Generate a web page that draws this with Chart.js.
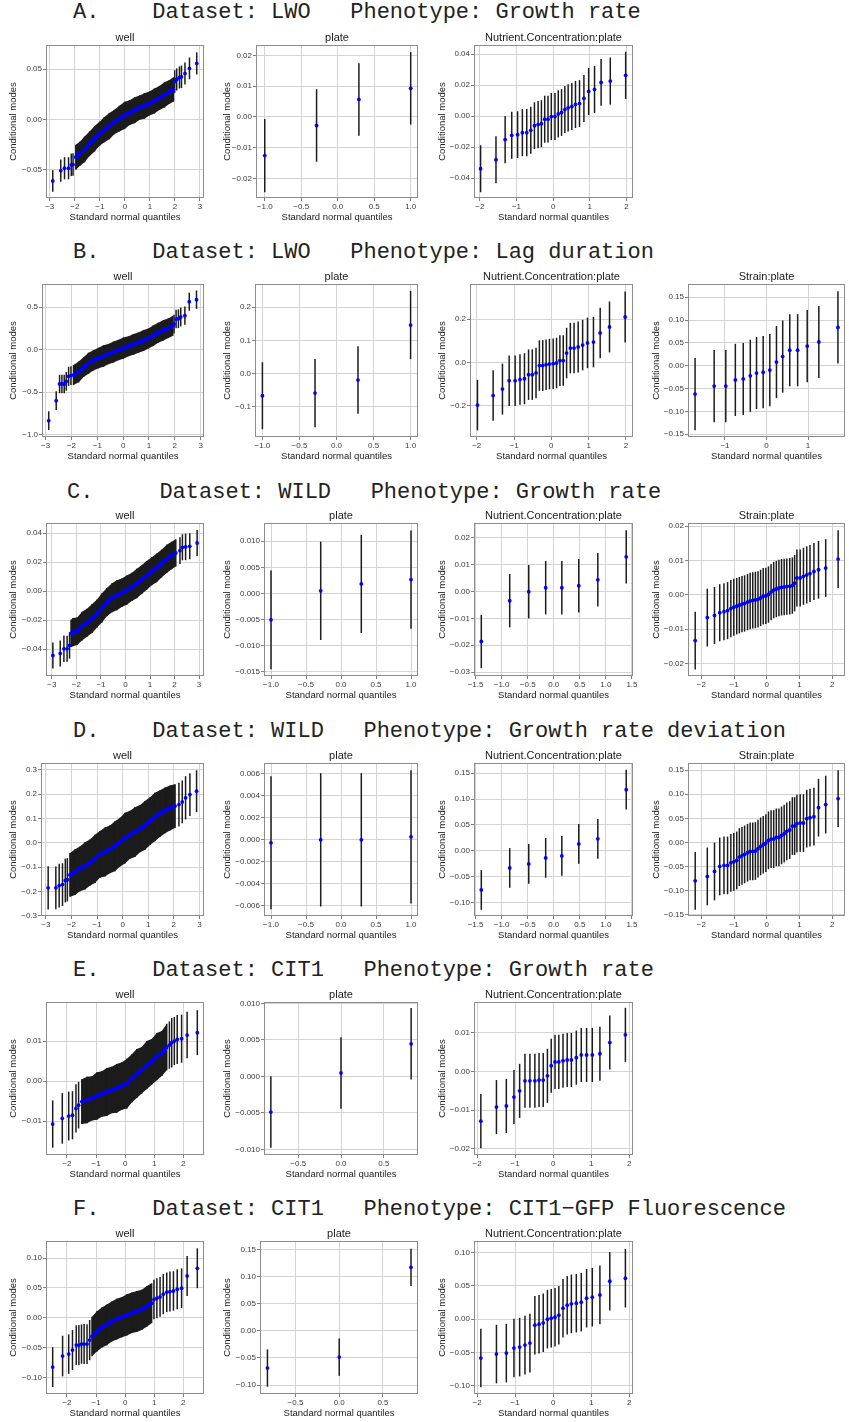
<!DOCTYPE html>
<html>
<head>
<meta charset="utf-8">
<script src="https://cdn.jsdelivr.net/npm/chart.js@4.4.1/dist/chart.umd.min.js"></script>
<style>
  html, body { margin: 0; padding: 0; background: #fff; }
  #fig { position: relative; width: 849px; height: 1422px; overflow: hidden; }
  .rt { position: absolute; font-family: "Liberation Mono", "Courier New", monospace; font-size: 22px; line-height: 22px; white-space: pre; color: #222; }
  canvas { position: absolute; }
</style>
</head>
<body>
<div id="fig">
  <div class="rt" style="left:73px;top:2px">A.    Dataset: LWO   Phenotype: Growth rate</div>
  <div class="rt" style="left:73px;top:242px">B.    Dataset: LWO   Phenotype: Lag duration</div>
  <div class="rt" style="left:67px;top:482px">C.     Dataset: WILD   Phenotype: Growth rate</div>
  <div class="rt" style="left:73px;top:721px">D.    Dataset: WILD   Phenotype: Growth rate deviation</div>
  <div class="rt" style="left:73px;top:960px">E.    Dataset: CIT1   Phenotype: Growth rate</div>
  <div class="rt" style="left:73px;top:1199px">F.    Dataset: CIT1   Phenotype: CIT1&#8722;GFP Fluorescence</div>
</div>
<script>
// ---- tick labels ----
const xTicksInt3 = ['−3', '−2', '−1', '0', '1', '2', '3'];
const xTicksInt2 = ['−2', '−1', '0', '1', '2'];
const xTicksInt1 = ['−1', '0', '1'];
const xTicksPlate4 = ['−1.0', '−0.5', '0.0', '0.5', '1.0'];
const xTicksPlate3 = ['−0.5', '0.0', '0.5'];
const xTicksHalf = ['−1.5', '−1.0', '−0.5', '0.0', '0.5', '1.0', '1.5'];

const yTicksA1 = ['−0.05', '0.00', '0.05'];
const yTicksA2 = ['−0.02', '−0.01', '0.00', '0.01', '0.02'];
const yTicksA3 = ['−0.04', '−0.02', '0.00', '0.02', '0.04'];
const yTicksB1 = ['−1.0', '−0.5', '0.0', '0.5'];
const yTicksB2 = ['−0.1', '0.0', '0.1', '0.2'];
const yTicksB3 = ['−0.2', '0.0', '0.2'];
const yTicksStrain = ['−0.15', '−0.10', '−0.05', '0.00', '0.05', '0.10', '0.15'];
const yTicksC1 = ['−0.04', '−0.02', '0.00', '0.02', '0.04'];
const yTicksC2 = ['−0.015', '−0.010', '−0.005', '0.000', '0.005', '0.010'];
const yTicksC3 = ['−0.03', '−0.02', '−0.01', '0.00', '0.01', '0.02'];
const yTicksC4 = ['−0.02', '−0.01', '0.00', '0.01', '0.02'];
const yTicksD1 = ['−0.3', '−0.2', '−0.1', '0.0', '0.1', '0.2', '0.3'];
const yTicksD2 = ['−0.006', '−0.004', '−0.002', '0.000', '0.002', '0.004', '0.006'];
const yTicksD3 = ['−0.10', '−0.05', '0.00', '0.05', '0.10', '0.15'];
const yTicksE1 = ['−0.01', '0.00', '0.01'];
const yTicksE2 = ['−0.010', '−0.005', '0.000', '0.005', '0.010'];
const yTicksE3 = ['−0.02', '−0.01', '0.00', '0.01'];
const yTicksF1 = ['−0.10', '−0.05', '0.00', '0.05', '0.10'];
const yTicksF2 = ['−0.10', '−0.05', '0.00', '0.05', '0.10', '0.15'];

// ---- shared normal quantiles ----
const lwoPlateQ = [-1.0, -0.29, 0.29, 1.0];
const wildPlateQ = [-1.0, -0.29, 0.29, 1.0];
const citPlateQ = [-0.82, 0.0, 0.82];
const lwoNutQ = [-1.98, -1.56, -1.31, -1.13, -0.97, -0.84, -0.72, -0.61, -0.51, -0.41, -0.32, -0.23, -0.14, -0.05,
                 0.05, 0.14, 0.23, 0.32, 0.41, 0.51, 0.61, 0.72, 0.84, 0.97, 1.13, 1.31, 1.56, 1.98];
const wildNutQ = [-1.39, -0.845, -0.48, -0.155, 0.155, 0.48, 0.845, 1.39];
const citNutQ = [-1.90, -1.49, -1.23, -1.03, -0.88, -0.74, -0.61, -0.48, -0.37, -0.26, -0.15, -0.05,
                 0.05, 0.15, 0.26, 0.37, 0.48, 0.61, 0.74, 0.88, 1.03, 1.23, 1.49, 1.90];
const lwoStrainQ = [-1.72, -1.26, -0.98, -0.75, -0.56, -0.39, -0.24, -0.08, 0.08, 0.24, 0.39, 0.56, 0.75, 0.98, 1.26, 1.72];
const wildStrainQ = [-2.19, -1.82, -1.60, -1.44, -1.31, -1.20, -1.10, -1.01, -0.92, -0.84, -0.76, -0.68, -0.59, -0.51,
                     -0.43, -0.35, -0.27, -0.19, -0.11, -0.03, 0.05, 0.13, 0.21, 0.29, 0.37, 0.45, 0.53, 0.61,
                     0.70, 0.78, 0.85, 0.92, 1.02, 1.12, 1.22, 1.32, 1.44, 1.58, 1.80, 2.18];

// ---- A: LWO growth rate ----
const aWellQ = [-2.88, -2.56, -2.41, -2.25, -2.14, -2.07, 1.99, 2.07, 2.18, 2.26, 2.40, 2.58, 2.87];
const aWellM = [-0.0614, -0.0510, -0.0487, -0.0487, -0.0453, -0.0450, 0.0376, 0.0397, 0.0417, 0.0423, 0.0457, 0.0507, 0.0557];
const aWellE = [0.0107, 0.0110, 0.0110, 0.0110, 0.0112, 0.0112, 0.0112, 0.0110, 0.0110, 0.0112, 0.0110, 0.0108, 0.0110];
const aWellBodyQ = [-1.96, -1.80, -1.61, -1.41, -1.21, -1.01, -0.82, -0.62, -0.42, -0.22, -0.01, 0.19, 0.39, 0.59, 0.78,
                    0.98, 1.18, 1.38, 1.58, 1.78, 1.94];
const aWellBodyM = [-0.0377, -0.0343, -0.0300, -0.0243, -0.0193, -0.0143, -0.0103, -0.0067, -0.0027, 0.0007, 0.0040,
                    0.0067, 0.0090, 0.0117, 0.0133, 0.0157, 0.0183, 0.0213, 0.0243, 0.0273, 0.0297];
const aWellBodyE = [0.0125, 0.0121, 0.0128, 0.0123, 0.0127, 0.0120, 0.0126, 0.0131, 0.0122, 0.0128, 0.0136, 0.0124,
                    0.0129, 0.0121, 0.0127, 0.0119, 0.0125, 0.0120, 0.0126, 0.0118, 0.0122];
const aPlateM = [-0.0126, -0.0028, 0.0057, 0.0093];
const aPlateE = [0.0119, 0.0118, 0.0118, 0.0118];
const aNutM = [-0.0339, -0.0281, -0.0151, -0.0123, -0.0119, -0.0106, -0.0106, -0.0091, -0.0061, -0.0054, -0.0048,
               -0.0019, -0.0019, -0.0002, -0.0002, 0.0015, 0.0024, 0.0043, 0.0054, 0.0063, 0.0076, 0.0082, 0.0115,
               0.0160, 0.0173, 0.0218, 0.0227, 0.0264];
const aNutE = [0.0152, 0.0151, 0.0152, 0.0152, 0.0151, 0.0152, 0.0152, 0.0152, 0.0151, 0.0152, 0.0152, 0.0152, 0.0151,
               0.0152, 0.0152, 0.0152, 0.0151, 0.0152, 0.0152, 0.0152, 0.0152, 0.0151, 0.0152, 0.0152, 0.0152, 0.0151,
               0.0152, 0.0152];

// ---- B: LWO lag duration ----
const bWellQ = [-2.88, -2.59, -2.46, -2.37, -2.28, -2.20, -2.11, -2.02, 1.97, 2.05, 2.14, 2.23, 2.39, 2.56, 2.84];
const bWellM = [-0.834, -0.599, -0.403, -0.403, -0.403, -0.372, -0.313, -0.305, 0.300, 0.360, 0.364, 0.384, 0.400, 0.564, 0.588];
const bWellE = [0.110, 0.110, 0.108, 0.110, 0.108, 0.110, 0.112, 0.110, 0.110, 0.108, 0.110, 0.110, 0.108, 0.106, 0.108];
const bWellBodyQ = [-1.92, -1.72, -1.53, -1.34, -1.15, -0.95, -0.76, -0.57, -0.37, -0.18, 0.01, 0.21, 0.40, 0.59, 0.79,
                    0.98, 1.17, 1.36, 1.56, 1.75, 1.92];
const bWellBodyM = [-0.298, -0.262, -0.205, -0.160, -0.125, -0.098, -0.075, -0.052, -0.028, -0.004, 0.018, 0.040, 0.062,
                    0.084, 0.108, 0.132, 0.165, 0.200, 0.228, 0.252, 0.280];
const bWellBodyE = [0.118, 0.122, 0.116, 0.124, 0.119, 0.121, 0.126, 0.118, 0.123, 0.120, 0.125, 0.117, 0.122, 0.119,
                    0.124, 0.118, 0.121, 0.117, 0.120, 0.116, 0.118];
const bPlateM = [-0.0675, -0.0594, -0.020, 0.146];
const bPlateE = [0.101, 0.103, 0.102, 0.103];
const bNutM = [-0.198, -0.154, -0.124, -0.085, -0.085, -0.080, -0.076, -0.057, -0.057, -0.049, -0.015, -0.015, -0.011,
               -0.008, -0.006, -0.003, 0.008, 0.008, 0.043, 0.066, 0.066, 0.071, 0.080, 0.090, 0.094, 0.136, 0.164, 0.210];
const bNutE = [0.117, 0.117, 0.118, 0.117, 0.117, 0.117, 0.118, 0.117, 0.117, 0.117, 0.117, 0.118, 0.117, 0.117,
               0.117, 0.117, 0.118, 0.117, 0.117, 0.117, 0.117, 0.118, 0.117, 0.117, 0.117, 0.117, 0.118, 0.118];
const bStrainM = [-0.062, -0.0445, -0.0445, -0.031, -0.029, -0.022, -0.016, -0.014, -0.0095, 0.008, 0.020, 0.034, 0.034,
                  0.043, 0.052, 0.084];
const bStrainE = [0.079, 0.079, 0.079, 0.079, 0.079, 0.079, 0.079, 0.079, 0.079, 0.079, 0.079, 0.079, 0.079, 0.079, 0.079, 0.079];

// ---- C: WILD growth rate ----
const cWellQ = [-2.96, -2.66, -2.51, -2.38, -2.28, 2.22, 2.32, 2.45, 2.62, 2.92];
const cWellM = [-0.0444, -0.0430, -0.0398, -0.0398, -0.0375, 0.0280, 0.0303, 0.0306, 0.0310, 0.0333];
const cWellE = [0.0090, 0.0090, 0.0092, 0.0090, 0.0091, 0.0092, 0.0090, 0.0092, 0.0090, 0.0090];
const cWellBodyQ = [-2.22, -2.14, -1.97, -1.77, -1.57, -1.36, -1.16, -0.96, -0.76, -0.55, -0.35, -0.15, 0.05, 0.26, 0.46,
                    0.66, 0.86, 1.07, 1.27, 1.47, 1.68, 1.88, 2.05];
const cWellBodyM = [-0.0292, -0.0283, -0.0276, -0.0241, -0.0218, -0.0189, -0.0154, -0.0115, -0.0076, -0.0046, -0.0028,
                    -0.0011, 0.0007, 0.0030, 0.0053, 0.0080, 0.0108, 0.0138, 0.0161, 0.0191, 0.0223, 0.0246, 0.0264];
const cWellBodyE = [0.0094, 0.0097, 0.0095, 0.0099, 0.0096, 0.0100, 0.0097, 0.0101, 0.0098, 0.0100, 0.0103, 0.0099,
                    0.0101, 0.0098, 0.0102, 0.0099, 0.0100, 0.0097, 0.0099, 0.0096, 0.0098, 0.0095, 0.0094];
const cPlateM = [-0.00503, 0.00051, 0.00184, 0.00267];
const cPlateE = [0.00945, 0.0094, 0.0094, 0.0094];
const cNutM = [-0.0186, -0.00346, -0.00012, 0.00136, 0.00136, 0.0021, 0.00432, 0.01284];
const cNutE = [0.0099, 0.0099, 0.0099, 0.0099, 0.0099, 0.0099, 0.0099, 0.0099];
const cStrainM = [-0.0133, -0.0066, -0.0060, -0.0052, -0.0049, -0.0046, -0.0040, -0.0036, -0.0033, -0.0030, -0.0027,
                  -0.0025, -0.0021, -0.0018, -0.0016, -0.0015, -0.0013, -0.0009, -0.0004, -0.0003, 0.0001, 0.0008,
                  0.0014, 0.0017, 0.0020, 0.0022, 0.0023, 0.0024, 0.0025, 0.0027, 0.0034, 0.0049, 0.0049, 0.0054,
                  0.0058, 0.0062, 0.0068, 0.0073, 0.0078, 0.0104];
const cStrainE = [0.0084, 0.0084, 0.0083, 0.0083, 0.0083, 0.0083, 0.0083, 0.0083, 0.0082, 0.0082, 0.0082, 0.0082,
                  0.0082, 0.0082, 0.0082, 0.0082, 0.0082, 0.0082, 0.0082, 0.0082, 0.0082, 0.0082, 0.0082, 0.0082,
                  0.0082, 0.0082, 0.0082, 0.0082, 0.0082, 0.0082, 0.0082, 0.0083, 0.0083, 0.0083, 0.0083, 0.0083,
                  0.0083, 0.0084, 0.0084, 0.0084];

// ---- D: WILD growth rate deviation ----
const dWellQ = [-2.91, -2.61, -2.48, -2.35, -2.24, -2.16, 2.20, 2.33, 2.46, 2.63, 2.89];
const dWellM = [-0.185, -0.185, -0.176, -0.172, -0.155, -0.152, 0.157, 0.168, 0.185, 0.198, 0.212];
const dWellE = [0.089, 0.088, 0.090, 0.088, 0.090, 0.089, 0.090, 0.088, 0.089, 0.088, 0.086];
const dWellBodyQ = [-2.06, -1.86, -1.67, -1.47, -1.28, -1.08, -0.89, -0.69, -0.50, -0.30, -0.10, 0.09, 0.29, 0.48, 0.68,
                    0.87, 1.07, 1.26, 1.46, 1.66, 1.85, 2.05];
const dWellBodyM = [-0.132, -0.121, -0.107, -0.095, -0.082, -0.066, -0.048, -0.038, -0.027, -0.014, 0.003, 0.019, 0.033,
                    0.044, 0.058, 0.071, 0.089, 0.106, 0.120, 0.133, 0.143, 0.151];
const dWellBodyE = [0.090, 0.094, 0.092, 0.097, 0.095, 0.099, 0.096, 0.101, 0.098, 0.103, 0.100, 0.104, 0.099, 0.102,
                    0.097, 0.101, 0.098, 0.100, 0.096, 0.094, 0.092, 0.090];
const dPlateM = [-0.00027, 0.0, 0.0, 0.00027];
const dPlateE = [0.00603, 0.00605, 0.00605, 0.00605];
const dNutM = [-0.0754, -0.0329, -0.0251, -0.0135, -0.0097, 0.0135, 0.0232, 0.118];
const dNutE = [0.0383, 0.0383, 0.0383, 0.0383, 0.0383, 0.0383, 0.0383, 0.0383];
const dStrainM = [-0.0799, -0.0708, -0.0604, -0.0500, -0.0479, -0.0479, -0.0424, -0.0403, -0.0375, -0.0306, -0.0278,
                  -0.0250, -0.0215, -0.0188, -0.0188, -0.0180, -0.0132, -0.0083, -0.0049, -0.0014, 0.0042, 0.0069,
                  0.0069, 0.0104, 0.0104, 0.0146, 0.0180, 0.0229, 0.0257, 0.0340, 0.0340, 0.0389, 0.0403, 0.0403,
                  0.0493, 0.0514, 0.0535, 0.0722, 0.0785, 0.0910];
const dStrainE = [0.060, 0.060, 0.060, 0.060, 0.060, 0.060, 0.060, 0.060, 0.060, 0.060, 0.060, 0.060, 0.060, 0.060,
                  0.060, 0.060, 0.060, 0.060, 0.060, 0.060, 0.060, 0.060, 0.060, 0.060, 0.060, 0.060, 0.060, 0.060,
                  0.060, 0.060, 0.060, 0.060, 0.060, 0.060, 0.060, 0.060, 0.060, 0.060, 0.060, 0.059];

// ---- E: CIT1 growth rate ----
const eWellQ = [-2.49, -2.16, -1.94, -1.81, -1.69, -1.60, 1.52, 1.60, 1.69, 1.79, 1.94, 2.13, 2.48];
const eWellM = [-0.0107, -0.0093, -0.0087, -0.0085, -0.0068, -0.0060, 0.0090, 0.0096, 0.0100, 0.0104, 0.0106, 0.0115, 0.0121];
const eWellE = [0.0059, 0.0063, 0.0061, 0.0060, 0.0060, 0.0058, 0.0059, 0.0062, 0.0060, 0.0061, 0.0060, 0.0058, 0.0056];
const eWellBodyQ = [-1.49, -1.31, -1.14, -0.97, -0.80, -0.63, -0.46, -0.29, -0.11, 0.06, 0.23, 0.40, 0.57, 0.74, 0.91,
                    1.09, 1.26, 1.43];
const eWellBodyM = [-0.0051, -0.0047, -0.0043, -0.0037, -0.0032, -0.0027, -0.0022, -0.0018, -0.0012, -0.0006, 0.0007,
                    0.0019, 0.0027, 0.0040, 0.0048, 0.0061, 0.0069, 0.0085];
const eWellBodyE = [0.0056, 0.0058, 0.0055, 0.0059, 0.0057, 0.0060, 0.0058, 0.0061, 0.0059, 0.0062, 0.0060, 0.0061,
                    0.0058, 0.0060, 0.0057, 0.0059, 0.0056, 0.0058];
const ePlateM = [-0.0049, 0.00046, 0.00445];
const ePlateE = [0.0049, 0.0049, 0.0049];
const eNutM = [-0.01284, -0.0092, -0.0089, -0.0066, -0.0050, -0.0024, -0.0024, -0.0024, -0.0022, -0.0022, -0.0011,
               0.0015, 0.0025, 0.0025, 0.0028, 0.0030, 0.0030, 0.0036, 0.0043, 0.0043, 0.0043, 0.0046, 0.0075, 0.0095];
const eNutE = [0.0070, 0.0070, 0.0070, 0.0070, 0.0070, 0.0070, 0.0070, 0.0070, 0.0070, 0.0070, 0.0070, 0.0070,
               0.0070, 0.0070, 0.0070, 0.0070, 0.0070, 0.0070, 0.0070, 0.0070, 0.0070, 0.0070, 0.0070, 0.0070];

// ---- F: CIT1 CIT1-GFP fluorescence ----
const fWellQ = [-2.49, -2.15, -1.94, -1.81, -1.68, -1.59, -1.50, -1.41, -1.31, -1.22, 0.99, 1.09, 1.20, 1.31, 1.43,
                1.54, 1.66, 1.79, 1.94, 2.13, 2.48];
const fWellM = [-0.0825, -0.0640, -0.0607, -0.0540, -0.0457, -0.0457, -0.0440, -0.0440, -0.0440, -0.0373, 0.0306,
                0.0329, 0.0351, 0.0396, 0.0429, 0.0440, 0.0451, 0.0479, 0.0496, 0.0702, 0.0830];
const fWellE = [0.0334, 0.0340, 0.0330, 0.0335, 0.0332, 0.0338, 0.0330, 0.0335, 0.0332, 0.0336, 0.0330, 0.0335,
                0.0332, 0.0336, 0.0330, 0.0334, 0.0330, 0.0336, 0.0332, 0.0335, 0.0334];
const fWellBodyQ = [-1.14, -0.97, -0.80, -0.63, -0.46, -0.29, -0.11, 0.06, 0.23, 0.40, 0.57, 0.74, 0.91];
const fWellBodyM = [-0.0312, -0.0228, -0.0162, -0.0117, -0.0061, -0.0022, 0.0011, 0.0050, 0.0084, 0.0106, 0.0134,
                    0.0189, 0.0245];
const fWellBodyE = [0.0330, 0.0338, 0.0334, 0.0341, 0.0336, 0.0343, 0.0338, 0.0345, 0.0340, 0.0343, 0.0337, 0.0340, 0.0334];
const fPlateM = [-0.0686, -0.0484, 0.117];
const fPlateE = [0.0343, 0.0343, 0.0343];
const fNutM = [-0.0585, -0.0525, -0.0510, -0.0435, -0.0420, -0.0390, -0.0360, -0.0090, -0.0075, -0.0055, 0.0000,
               0.0015, 0.0030, 0.0060, 0.0165, 0.0210, 0.0230, 0.0240, 0.0255, 0.0315, 0.0330, 0.0365, 0.0570, 0.0615];
const fNutE = [0.044, 0.044, 0.044, 0.044, 0.044, 0.044, 0.044, 0.044, 0.044, 0.044, 0.044, 0.044,
               0.044, 0.044, 0.044, 0.044, 0.044, 0.044, 0.044, 0.044, 0.044, 0.044, 0.044, 0.044];

// ---- layout ----
const FONT = '"Liberation Sans", Arial, Helvetica, sans-serif';
const ROW_TOP = [45, 284, 523, 763, 1002, 1241];
const COL_X = [0, 214, 429, 643];
const COL_RIGHT = [204, 418, 633, 845];
const PLOT_H = 153;
const PAD_TOP = 16;
const PAD_RIGHT = 6;
const X_AXIS_H = 27;
const BLUE = '#0000ff';
const BAR = '#1c1c1c';

const NC = 'Nutrient.Concentration:plate';
const panels = [
  {row: 0, col: 0, left: 46, title: 'well', x: [-3.15, 3.16], y: [-0.0783, 0.074], xt: xTicksInt3, yt: yTicksA1,
   q: aWellQ, m: aWellM, e: aWellE, bq: aWellBodyQ, bm: aWellBodyM, be: aWellBodyE},
  {row: 0, col: 1, left: 256, title: 'plate', x: [-1.12, 1.1], y: [-0.0264, 0.0234], xt: xTicksPlate4, yt: yTicksA2,
   q: lwoPlateQ, m: aPlateM, e: aPlateE},
  {row: 0, col: 2, left: 474, title: NC, x: [-2.16, 2.18], y: [-0.0528, 0.046], xt: xTicksInt2, yt: yTicksA3,
   q: lwoNutQ, m: aNutM, e: aNutE},

  {row: 1, col: 0, left: 42, title: 'well', x: [-3.14, 3.13], y: [-1.026, 0.772], xt: xTicksInt3, yt: yTicksB1,
   q: bWellQ, m: bWellM, e: bWellE, bq: bWellBodyQ, bm: bWellBodyM, be: bWellBodyE},
  {row: 1, col: 1, left: 255, title: 'plate', x: [-1.1, 1.1], y: [-0.192, 0.27], xt: xTicksPlate4, yt: yTicksB2,
   q: lwoPlateQ, m: bPlateM, e: bPlateE},
  {row: 1, col: 2, left: 470, title: NC, x: [-2.18, 2.19], y: [-0.346, 0.363], xt: xTicksInt2, yt: yTicksB3,
   q: lwoNutQ, m: bNutM, e: bNutE},
  {row: 1, col: 3, left: 688, title: 'Strain:plate', x: [-1.89, 1.89], y: [-0.156, 0.179], xt: xTicksInt1, yt: yTicksStrain,
   q: lwoStrainQ, m: bStrainM, e: bStrainE},

  {row: 2, col: 0, left: 46, title: 'well', x: [-3.24, 3.2], y: [-0.0586, 0.0471], xt: xTicksInt3, yt: yTicksC1,
   q: cWellQ, m: cWellM, e: cWellE, bq: cWellBodyQ, bm: cWellBodyM, be: cWellBodyE},
  {row: 2, col: 1, left: 264, title: 'plate', x: [-1.1, 1.1], y: [-0.01578, 0.01349], xt: xTicksPlate4, yt: yTicksC2,
   q: wildPlateQ, m: cPlateM, e: cPlateE},
  {row: 2, col: 2, left: 474, title: NC, x: [-1.53, 1.52], y: [-0.0314, 0.0254], xt: xTicksHalf, yt: yTicksC3,
   q: wildNutQ, m: cNutM, e: cNutE},
  {row: 2, col: 3, left: 688, title: 'Strain:plate', x: [-2.41, 2.39], y: [-0.0236, 0.0209], xt: xTicksInt2, yt: yTicksC4,
   q: wildStrainQ, m: cStrainM, e: cStrainE},

  {row: 3, col: 0, left: 41, title: 'well', x: [-3.19, 3.18], y: [-0.301, 0.328], xt: xTicksInt3, yt: yTicksD1,
   q: dWellQ, m: dWellM, e: dWellE, bq: dWellBodyQ, bm: dWellBodyM, be: dWellBodyE},
  {row: 3, col: 1, left: 264, title: 'plate', x: [-1.1, 1.1], y: [-0.00691, 0.00697], xt: xTicksPlate4, yt: yTicksD2,
   q: wildPlateQ, m: dPlateM, e: dPlateE},
  {row: 3, col: 2, left: 474, title: NC, x: [-1.53, 1.52], y: [-0.1256, 0.1695], xt: xTicksHalf, yt: yTicksD3,
   q: wildNutQ, m: dNutM, e: dNutE},
  {row: 3, col: 3, left: 688, title: 'Strain:plate', x: [-2.41, 2.39], y: [-0.153, 0.165], xt: xTicksInt2, yt: yTicksStrain,
   q: wildStrainQ, m: dStrainM, e: dStrainE},

  {row: 4, col: 0, left: 46, title: 'well', x: [-2.72, 2.71], y: [-0.01842, 0.01975], xt: xTicksInt2, yt: yTicksE1,
   q: eWellQ, m: eWellM, e: eWellE, bq: eWellBodyQ, bm: eWellBodyM, be: eWellBodyE},
  {row: 4, col: 1, left: 264, title: 'plate', x: [-0.9, 0.9], y: [-0.01078, 0.01018], xt: xTicksPlate3, yt: yTicksE2,
   q: citPlateQ, m: ePlateM, e: ePlateE},
  {row: 4, col: 2, left: 474, title: NC, x: [-2.08, 2.1], y: [-0.0216, 0.018], xt: xTicksInt2, yt: yTicksE3,
   q: citNutQ, m: eNutM, e: eNutE},

  {row: 5, col: 0, left: 46, title: 'well', x: [-2.72, 2.71], y: [-0.1276, 0.1287], xt: xTicksInt2, yt: yTicksF1,
   q: fWellQ, m: fWellM, e: fWellE, bq: fWellBodyQ, bm: fWellBodyM, be: fWellBodyE},
  {row: 5, col: 1, left: 260, title: 'plate', x: [-0.905, 0.9], y: [-0.1164, 0.1654], xt: xTicksPlate3, yt: yTicksF2,
   q: citPlateQ, m: fPlateM, e: fPlateE},
  {row: 5, col: 2, left: 474, title: NC, x: [-2.08, 2.1], y: [-0.1125, 0.1175], xt: xTicksInt2, yt: yTicksF1,
   q: citNutQ, m: fNutM, e: fNutE}
];

function num(label) { return parseFloat(label.replace('\u2212', '-')); }
function points(q, v) { return q.map((x, i) => ({x: x, y: v[i]})); }
function lower(m, e) { return m.map((v, i) => v - e[i]); }
function upper(m, e) { return m.map((v, i) => v + e[i]); }

// panel border and strip title
const panelFrame = {
  id: 'panelFrame',
  beforeDatasetsDraw(chart, args, opts) {
    const {ctx, chartArea: a} = chart;
    ctx.save();
    ctx.strokeStyle = '#8c8c8c';
    ctx.lineWidth = 1;
    ctx.strokeRect(Math.round(a.left) + 0.5, Math.round(a.top) + 0.5,
                   Math.round(a.right - a.left) - 1, Math.round(a.bottom - a.top) - 1);
    ctx.fillStyle = '#1a1a1a';
    ctx.font = '11px ' + FONT;
    ctx.textAlign = 'center';
    ctx.textBaseline = 'middle';
    ctx.fillText(opts.title, (a.left + a.right) / 2, a.top - 7);
    ctx.restore();
  }
};

function axis(labels, range, width, isX) {
  return {
    type: 'linear',
    min: range[0],
    max: range[1],
    offset: false,
    beginAtZero: false,
    border: {display: false},
    grid: {color: '#d3d3d3', lineWidth: 1, drawTicks: true, tickLength: 3, tickColor: '#808080', offset: false},
    ticks: {
      autoSkip: false, maxRotation: 0, padding: 1,
      font: {family: FONT, size: 8}, color: '#3a3a3a',
      callback: (v, i) => labels[i]
    },
    title: isX
      ? {display: true, text: 'Standard normal quantiles', font: {family: FONT, size: 9.5}, color: '#1a1a1a', padding: {top: 0, bottom: 2}}
      : {display: true, text: 'Conditional modes', font: {family: FONT, size: 9.5}, color: '#1a1a1a', padding: {top: 8, bottom: 0}},
    afterBuildTicks: s => { s.ticks = labels.map(l => ({value: num(l)})); },
    afterFit: s => { if (isX) s.height = X_AXIS_H; else s.width = width; }
  };
}

// each interval is a vertical 'line' point marker whose half-length is the interval's pixel extent
function intervalSet(q, m, e, order) {
  return {
    type: 'scatter', data: points(q, m), order: order,
    pointStyle: 'line', rotation: 90, borderColor: BAR, borderWidth: 1.5, backgroundColor: BAR,
    pointRadius: ctx => {
      const y = ctx.chart.scales.y;
      const i = ctx.dataIndex;
      return Math.abs(y.getPixelForValue(m[i] + e[i]) - y.getPixelForValue(m[i]));
    }
  };
}

const fig = document.getElementById('fig');

panels.forEach(p => {
  const cv = document.createElement('canvas');
  const w = COL_RIGHT[p.col] - COL_X[p.col] + PAD_RIGHT;
  const h = PAD_TOP + PLOT_H + X_AXIS_H;
  cv.width = w;
  cv.height = h;
  cv.style.left = COL_X[p.col] + 'px';
  cv.style.top = (ROW_TOP[p.row] - PAD_TOP) + 'px';
  cv.style.width = w + 'px';
  cv.style.height = h + 'px';
  fig.appendChild(cv);

  const datasets = [
    intervalSet(p.q, p.m, p.e, 2),
    {type: 'scatter', data: points(p.q, p.m), backgroundColor: BLUE, borderWidth: 0, pointRadius: 1.9, order: 0}
  ];
  if (p.bq) {
    // dense middle of the well panels: interval band filled between lower and upper limits,
    // modes joined by a thick line
    datasets.push({type: 'line', data: points(p.bq, lower(p.bm, p.be)), borderWidth: 0, pointRadius: 0,
                   fill: false, order: 4});
    datasets.push({type: 'line', data: points(p.bq, upper(p.bm, p.be)), borderWidth: 0, pointRadius: 0,
                   fill: '-1', backgroundColor: BAR, order: 3});
    datasets.push(intervalSet(p.bq, p.bm, p.be, 2));
    datasets.push({type: 'scatter', data: points(p.bq, p.bm), showLine: true, borderColor: BLUE, borderWidth: 3.6,
                   backgroundColor: BLUE, pointRadius: 1.9, pointBorderWidth: 0, order: 1});
  }

  new Chart(cv, {
    type: 'scatter',
    data: {datasets: datasets},
    options: {
      responsive: false,
      animation: false,
      events: [],
      layout: {padding: {top: PAD_TOP, right: PAD_RIGHT, left: 0, bottom: 0}},
      plugins: {legend: {display: false}, tooltip: {enabled: false}, panelFrame: {title: p.title}},
      scales: {
        x: axis(p.xt, p.x, 0, true),
        y: axis(p.yt, p.y, p.left - COL_X[p.col], false)
      }
    },
    plugins: [panelFrame]
  });
});
</script>
</body>
</html>
